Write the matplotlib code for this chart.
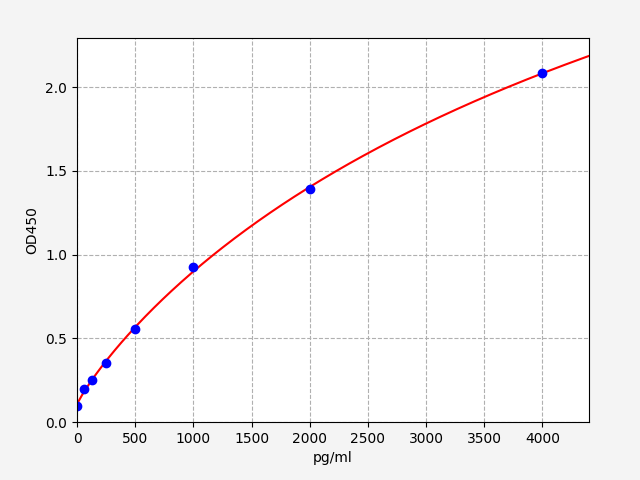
import numpy as np
import matplotlib
matplotlib.use('Agg')
import matplotlib.pyplot as plt

# standard points
conc = [0, 62.5, 125, 250, 500, 1000, 2000, 4000]
od = [0.097, 0.20, 0.25, 0.35, 0.553, 0.925, 1.391, 2.085]


def four_pl(x, p):
    a, b, c, d = p
    return d + (a - d) / (1.0 + (np.abs(x) / c) ** b)


# simple Levenberg-Marquardt fit of a 4PL curve to the standards
x = np.array(conc, dtype=float)
y = np.array(od, dtype=float)
p = np.array([0.1, 1.0, 3000.0, 4.0])
lam = 1e-2
for _ in range(500):
    r = y - four_pl(x, p)
    J = np.zeros((len(x), 4))
    for i in range(4):
        dp = np.zeros(4)
        dp[i] = 1e-6 * max(abs(p[i]), 1.0)
        J[:, i] = (four_pl(x, p + dp) - four_pl(x, p)) / dp[i]
    A = J.T @ J
    step = np.linalg.solve(A + lam * np.diag(np.diag(A)), J.T @ r)
    newp = p + step
    if newp[2] > 0 and np.sum((y - four_pl(x, newp)) ** 2) < np.sum(r ** 2):
        p = newp
        lam *= 0.5
    else:
        lam *= 4

xs = np.linspace(0, 4400, 300)
ys = four_pl(xs, p)

fig = plt.figure(figsize=(6.4, 4.8), dpi=100)
fig.patch.set_facecolor('#f4f4f4')
ax = fig.add_axes([77/640, 58/480, 512/640, 384/480])
ax.plot(xs, ys, color='red', linewidth=1.5)
ax.plot(conc, od, 'o', color='blue')
ax.set_xlim(0, 4400)
ax.set_ylim(0, max(od) * 1.1)
ax.grid(True, linestyle='--', color='#b0b0b0')
ax.set_xlabel('pg/ml')
ax.set_ylabel('OD450')
fig.savefig('out.png', facecolor=fig.get_facecolor())
